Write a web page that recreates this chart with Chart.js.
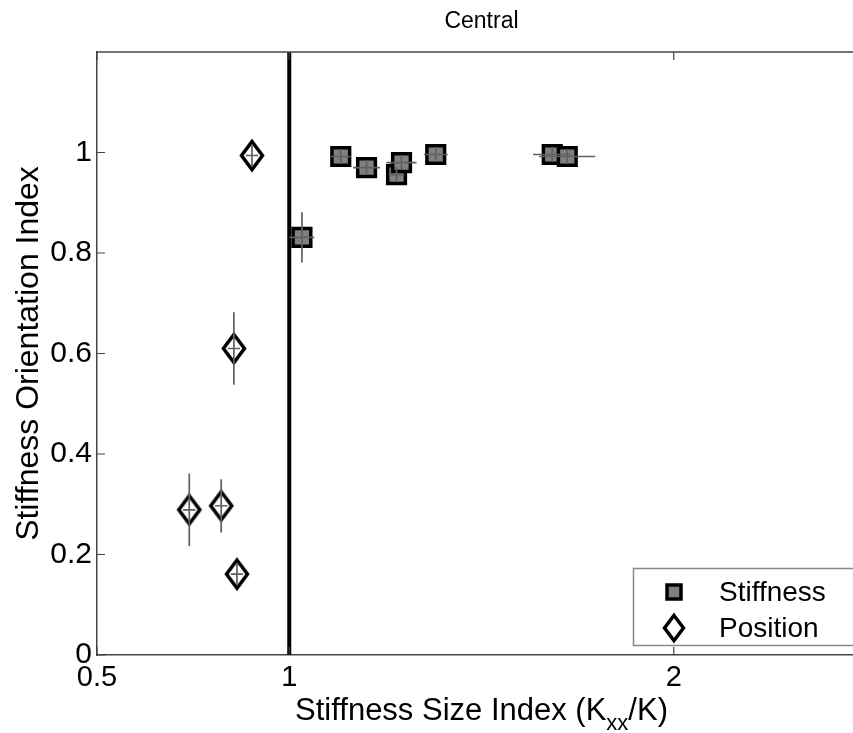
<!DOCTYPE html>
<html><head><meta charset="utf-8">
<script src="https://cdn.jsdelivr.net/npm/chart.js@4.4.1/dist/chart.umd.min.js"></script>
<style>html,body{margin:0;padding:0;background:#fff;overflow:hidden;width:853px;height:733px}</style>
</head><body>
<canvas id="c" width="866" height="733"></canvas>
<script>
// ---- data ----
const stiffX    = [1.033, 1.134, 1.201, 1.279, 1.292, 1.381, 1.684, 1.723];
const stiffY    = [0.831, 0.992, 0.970, 0.956, 0.980, 0.996, 0.996, 0.992];
const stiffXErr = [0.032, 0.026, 0.035, 0.020, 0.039, 0.031, 0.050, 0.073];
const stiffYErr = [0.050, 0.015, 0.015, 0.015, 0.015, 0.015, 0.015, 0.015];

const posX    = [0.740, 0.823, 0.856, 0.864, 0.903];
const posY    = [0.289, 0.297, 0.610, 0.161, 0.994];
const posXErr = [0.016, 0.016, 0.016, 0.016, 0.016];
const posYErr = [0.072, 0.053, 0.072, 0.022, 0.022];

const xTicks = [0.5, 1, 2];
const yTicks = [0, 0.2, 0.4, 0.6, 0.8, 1];
const refLineX = 1;
const xTitleMain = 'Stiffness Size Index (K';
const xTitleSub = 'xx';
const xTitleEnd = '/K)';

const FONT = "'Liberation Sans', Arial, Helvetica, sans-serif";

function makeDiamond(w, h, lw) {
  const c = document.createElement('canvas');
  c.width = Math.ceil(w + lw * 3); c.height = Math.ceil(h + lw * 3);
  const g = c.getContext('2d');
  const cx = c.width / 2, cy = c.height / 2;
  g.beginPath();
  g.moveTo(cx, cy - h / 2); g.lineTo(cx + w / 2, cy); g.lineTo(cx, cy + h / 2); g.lineTo(cx - w / 2, cy);
  g.closePath();
  g.fillStyle = '#fff'; g.fill();
  g.lineWidth = lw; g.strokeStyle = '#000'; g.lineJoin = 'miter'; g.stroke();
  return c;
}
const diamond = makeDiamond(21, 28, 3.5);
const legendDiamond = makeDiamond(19, 25, 3.5);

const toPts = (xs, ys) => xs.map((x, i) => ({x: x, y: ys[i]}));

const errPlugin = {
  id: 'errbars',
  beforeDatasetsDraw(chart) {
    const {ctx, chartArea, scales: {x}} = chart;
    const px = x.getPixelForValue(refLineX);
    ctx.save();
    ctx.strokeStyle = '#000'; ctx.lineWidth = 4;
    ctx.beginPath(); ctx.moveTo(px, chartArea.top); ctx.lineTo(px, chartArea.bottom); ctx.stroke();
    ctx.restore();
  },
  afterDatasetsDraw(chart) {
    const {ctx, scales: {x, y}} = chart;
    ctx.save();
    ctx.strokeStyle = '#606060'; ctx.lineWidth = 1.7;
    chart.data.datasets.forEach(ds => {
      ds.data.forEach((p, i) => {
        const px = x.getPixelForValue(p.x), py = y.getPixelForValue(p.y);
        ctx.beginPath();
        ctx.moveTo(x.getPixelForValue(p.x - ds.xErr[i]), py);
        ctx.lineTo(x.getPixelForValue(p.x + ds.xErr[i]), py);
        ctx.moveTo(px, y.getPixelForValue(p.y - ds.yErr[i]));
        ctx.lineTo(px, y.getPixelForValue(p.y + ds.yErr[i]));
        ctx.stroke();
      });
    });
    ctx.restore();
  },
  afterDraw(chart) {
    const {ctx, chartArea: ca, scales: {x, y}} = chart;
    ctx.save();
    // top frame line
    ctx.strokeStyle = '#444'; ctx.lineWidth = 1.5;
    ctx.beginPath(); ctx.moveTo(ca.left, ca.top); ctx.lineTo(ca.right, ca.top); ctx.stroke();
    // inward tick marks
    ctx.lineWidth = 1.2;
    ctx.beginPath();
    xTicks.forEach(v => {
      const p = x.getPixelForValue(v);
      ctx.moveTo(p, ca.bottom); ctx.lineTo(p, ca.bottom - 8);
      ctx.moveTo(p, ca.top); ctx.lineTo(p, ca.top + 8);
    });
    yTicks.forEach(v => {
      const p = y.getPixelForValue(v);
      ctx.moveTo(ca.left, p); ctx.lineTo(ca.left + 8, p);
    });
    ctx.stroke();
    // x axis title with subscript
    ctx.fillStyle = '#000';
    ctx.textBaseline = 'alphabetic'; ctx.textAlign = 'left';
    const fMain = '31px ' + FONT, fSub = '22px ' + FONT;
    ctx.font = fMain; const w1 = ctx.measureText(xTitleMain).width, w3 = ctx.measureText(xTitleEnd).width;
    ctx.font = fSub; const w2 = ctx.measureText(xTitleSub).width;
    const cx = (ca.left + ca.right) / 2;
    let tx = cx - (w1 + w2 + w3) / 2;
    const base = 720;
    ctx.font = fMain; ctx.fillText(xTitleMain, tx, base); tx += w1;
    ctx.font = fSub; ctx.fillText(xTitleSub, tx, base + 10); tx += w2;
    ctx.font = fMain; ctx.fillText(xTitleEnd, tx, base);
    // legend box
    const bx = 633.5, by = 568.5, bw = 260, bh = 77;
    ctx.fillStyle = '#fff'; ctx.fillRect(bx, by, bw, bh);
    ctx.strokeStyle = '#888'; ctx.lineWidth = 1.5; ctx.strokeRect(bx, by, bw, bh);
    const mx = 674, r1 = 592, r2 = 628;
    ctx.fillStyle = '#808080'; ctx.fillRect(mx - 7, r1 - 7, 14, 14);
    ctx.strokeStyle = '#000'; ctx.lineWidth = 3.5; ctx.strokeRect(mx - 7, r1 - 7, 14, 14);
    ctx.drawImage(legendDiamond, mx - legendDiamond.width / 2, r2 - legendDiamond.height / 2);
    ctx.fillStyle = '#000';
    ctx.font = '28px ' + FONT;
    ctx.textBaseline = 'middle'; ctx.textAlign = 'left';
    ctx.fillText(chart.data.datasets[0].label, 719, r1 + 1);
    ctx.fillText(chart.data.datasets[1].label, 719, r2 + 1);
    ctx.restore();
  }
};

new Chart(document.getElementById('c'), {
  type: 'scatter',
  data: {
    datasets: [
      {
        label: 'Stiffness',
        data: toPts(stiffX, stiffY),
        xErr: stiffXErr, yErr: stiffYErr,
        pointStyle: 'rect', pointRadius: 12.5, pointHoverRadius: 12.5,
        backgroundColor: '#808080', borderColor: '#000', borderWidth: 3.5
      },
      {
        label: 'Position',
        data: toPts(posX, posY),
        xErr: posXErr, yErr: posYErr,
        pointStyle: diamond, pointRadius: 12,
        backgroundColor: '#fff', borderColor: '#000', borderWidth: 0
      }
    ]
  },
  options: {
    responsive: false,
    animation: false,
    devicePixelRatio: 1,
    events: [],
    layout: {padding: 0, autoPadding: false},
    plugins: {
      legend: {display: false},
      tooltip: {enabled: false},
      title: {
        display: true, fullSize: false, text: 'Central', color: '#000',
        font: {family: FONT, size: 23, weight: 'normal', lineHeight: 1.2},
        padding: {top: 8, bottom: 16.4}
      }
    },
    scales: {
      x: {
        type: 'linear', min: 0.5, max: 2.5,
        afterBuildTicks: s => { s.ticks = xTicks.map(v => ({value: v})); },
        afterFit: s => { s.height = 78; s.paddingLeft = 0; s.paddingRight = 0; },
        grid: {display: false, drawTicks: false, tickLength: 0},
        border: {display: true, color: '#444', width: 1.5},
        ticks: {color: '#000', font: {family: FONT, size: 29}, padding: 6,
                maxRotation: 0, autoSkip: false, callback: v => String(v)},
        title: {display: false}
      },
      y: {
        type: 'linear', min: 0, max: 1.2,
        afterBuildTicks: s => { s.ticks = yTicks.map(v => ({value: v})); },
        afterFit: s => { s.width = 97; s.paddingTop = 0; s.paddingBottom = 0; },
        grid: {display: false, drawTicks: false, tickLength: 0},
        border: {display: true, color: '#444', width: 1.5},
        ticks: {color: '#000', font: {family: FONT, size: 30}, padding: 5, callback: v => String(v)},
        title: {display: true, text: 'Stiffness Orientation Index', color: '#000',
                font: {family: FONT, size: 32}, padding: {top: 10, bottom: 0}}
      }
    }
  },
  plugins: [errPlugin]
});
</script>
</body></html>
